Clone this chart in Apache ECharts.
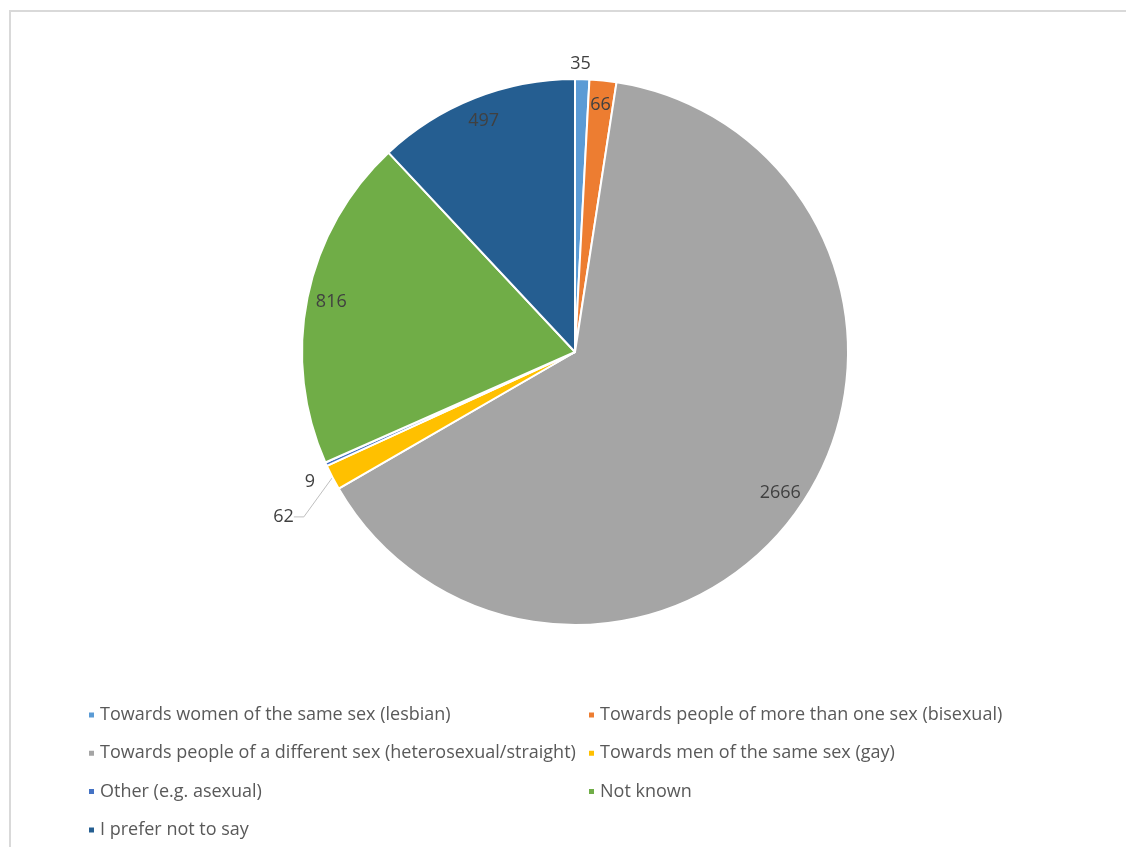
<!DOCTYPE html>
<html>
<head>
<meta charset="utf-8">
<title>Sexual orientation</title>
<script src="https://cdn.jsdelivr.net/npm/echarts@6/dist/echarts.min.js"></script>
<style>
  html, body { margin: 0; padding: 0; background: #ffffff; }
  #chart { width: 1126px; height: 847px; }
</style>
</head>
<body>
<div id="chart"></div>
<script>
// Respondents by sexual orientation
const categories = [
  'Towards women of the same sex (lesbian)',
  'Towards people of more than one sex (bisexual)',
  'Towards people of a different sex (heterosexual/straight)',
  'Towards men of the same sex (gay)',
  'Other (e.g. asexual)',
  'Not known',
  'I prefer not to say'
];
const counts = [35, 66, 2666, 62, 9, 816, 497];

// Slice colours (Office palette)
const sliceColors = ['#5B9BD5', '#ED7D31', '#A5A5A5', '#FFC000', '#4472C4', '#70AD47', '#255E91'];

// Small slices get their value written outside the pie; the rest inside near the rim
const outsideLabel = [true, false, false, true, true, false, false];

const FONT = 'Open Sans';
const chart = echarts.init(document.getElementById('chart'), null, { renderer: 'canvas' });

const center = [575, 352];
const R = 273;

const pieData = categories.map((name, i) => ({
  name: name,
  value: counts[i],
  itemStyle: { color: sliceColors[i] },
  label: { show: outsideLabel[i] },
  labelLine: i === 3
    ? { show: true, length: 12, length2: 10 }
    : { show: false, length: 10, length2: 0 }
}));

const rimData = categories.map((name, i) => ({
  name: name,
  value: counts[i],
  label: { show: !outsideLabel[i] }
}));

const legendCommon = {
  orient: 'vertical',
  top: 706,
  padding: 0,
  itemGap: 20.3,
  itemWidth: 7,
  itemHeight: 7,
  icon: 'rect',
  selectedMode: false,
  textStyle: { fontFamily: FONT, fontSize: 18, color: '#595959' }
};

chart.setOption({
  animation: false,
  backgroundColor: '#ffffff',
  graphic: [{
    type: 'rect',
    shape: { x: 10, y: 11, width: 1200, height: 900 },
    style: { fill: 'none', stroke: '#d9d9d9', lineWidth: 2 },
    silent: true
  }],
  legend: [
    Object.assign({}, legendCommon, {
      left: 87,
      data: [categories[0], categories[2], categories[4], categories[6]]
    }),
    Object.assign({}, legendCommon, {
      left: 587,
      data: [categories[1], categories[3], categories[5]]
    })
  ],
  series: [
    {
      type: 'pie',
      center: center,
      radius: [0, R],
      startAngle: 90,
      clockwise: true,
      avoidLabelOverlap: false,
      silent: true,
      itemStyle: { borderColor: '#ffffff', borderWidth: 2 },
      label: {
        position: 'outside',
        formatter: '{c}',
        fontFamily: FONT,
        fontSize: 18,
        color: '#404040',
        distanceToLabelLine: 4
      },
      labelLine: {
        lineStyle: { color: '#bfbfbf', width: 1 }
      },
      labelLayout: function (p) {
        const r = p.labelRect;
        // centre the top label over its slice
        if (p.dataIndex === 0) return { dx: -(r.width / 2 + 6), dy: -5 };
        // drop the gay-slice label below the "other" label; the guide line is re-routed
        if (p.dataIndex === 3) return { x: r.x + r.width - 14, y: r.y + r.height / 2 + 34 };
        if (p.dataIndex === 4) return { dx: 2, dy: 14 };
        return {};
      },
      data: pieData
    },
    {
      // transparent rim ring: its "inside" label anchor sits at 0.9 R
      type: 'pie',
      center: center,
      radius: [R * 0.8, R],
      startAngle: 90,
      clockwise: true,
      silent: true,
      itemStyle: { color: 'rgba(0,0,0,0)', borderWidth: 0 },
      label: {
        position: 'inside',
        formatter: '{c}',
        fontFamily: FONT,
        fontSize: 18,
        color: '#404040'
      },
      labelLine: { show: false },
      data: rimData
    }
  ]
});
</script>
</body>
</html>
